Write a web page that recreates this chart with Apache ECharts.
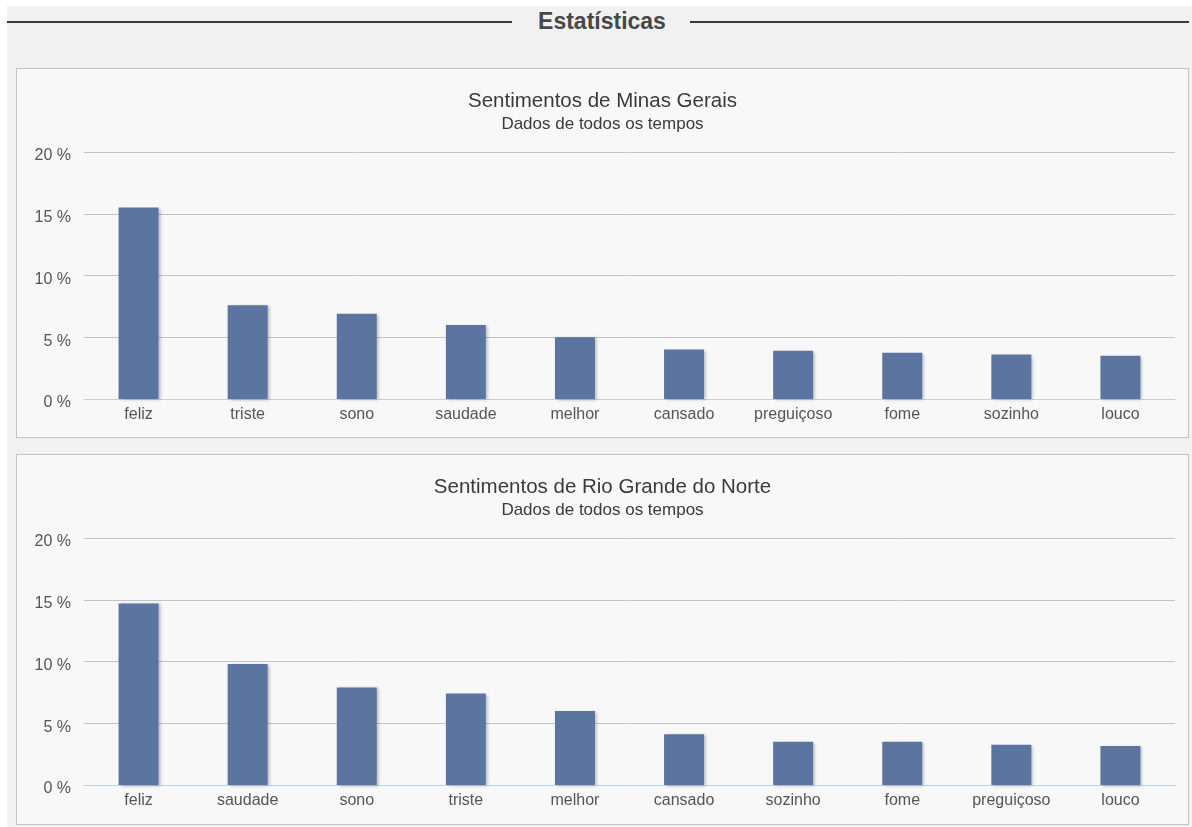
<!DOCTYPE html>
<html>
<head>
<meta charset="utf-8">
<script src="https://cdn.jsdelivr.net/npm/echarts@6/dist/echarts.min.js"></script>
<style>
    body { margin: 0; background: #fff; font-family: "Liberation Sans", Arial, sans-serif; }
    #page { position: absolute; left: 7px; top: 6px; right: 0; bottom: 0; background: #f1f1f1; }
    .header_line { position: absolute; top: 15px; height: 2px; background: #3a3a3a; }
    #header_text { position: absolute; left: 505px; width: 180px; top: 2px; text-align: center;
        font-size: 23px; font-weight: bold; color: #474747; }
    .panel { position: absolute; left: 9px; width: 1171px; background: #f8f8f8; border: 1px solid #c4c4c4; }
</style>
</head>
<body>
<div id="page">
    <div class="header_line" style="left:0; width:505px;"></div>
    <div id="header_text">Estatísticas</div>
    <div class="header_line" style="left:683px; width:499px;"></div>
    <div class="panel" id="panel_mg" style="top:62px; height:368px;"></div>
    <div class="panel" id="panel_rn" style="top:448px; height:369px;"></div>
</div>
<script>
var mgCategories = ['feliz', 'triste', 'sono', 'saudade', 'melhor', 'cansado', 'preguiçoso', 'fome', 'sozinho', 'louco'];
var mgValues = [15.5, 7.6, 6.9, 6.0, 5.0, 4.0, 3.9, 3.75, 3.6, 3.5];

var rnCategories = ['feliz', 'saudade', 'sono', 'triste', 'melhor', 'cansado', 'sozinho', 'fome', 'preguiçoso', 'louco'];
var rnValues = [14.7, 9.8, 7.9, 7.4, 6.0, 4.1, 3.5, 3.5, 3.25, 3.15];

var subtitle = 'Dados de todos os tempos';
var fontFamily = '"Liberation Sans", Arial, sans-serif';

function buildOptions(title, categories, values, bottom) {
    return {
        animation: false,
        title: {
            text: title,
            subtext: subtitle,
            left: 'center',
            top: 17,
            itemGap: 4,
            textStyle: { fontFamily: fontFamily, fontSize: 20.5, fontWeight: 'normal', color: '#3a3a3a' },
            subtextStyle: { fontFamily: fontFamily, fontSize: 17, color: '#3a3a3a' }
        },
        grid: { left: 67, right: 13, top: 83, bottom: bottom },
        xAxis: {
            type: 'category',
            data: categories,
            axisLine: { lineStyle: { color: '#c0d0e0', width: 1 } },
            axisTick: { length: 5, lineStyle: { color: '#c0d0e0' } },
            axisLabel: { margin: 8, fontFamily: fontFamily, fontSize: 16, color: '#555' }
        },
        yAxis: {
            type: 'value',
            min: 0,
            max: 20,
            interval: 5,
            axisLine: { show: false },
            axisTick: { show: false },
            axisLabel: {
                margin: 13,
                verticalAlign: 'top',
                lineHeight: 8,
                fontFamily: fontFamily,
                fontSize: 16,
                color: '#555',
                formatter: function (value) {
                    return value + ' %';
                }
            },
            splitLine: { lineStyle: { color: '#c4c4c4', width: 1 } }
        },
        series: [{
            type: 'bar',
            data: values,
            barWidth: 40,
            itemStyle: {
                color: '#5c75a0',
                shadowColor: 'rgba(0, 0, 0, 0.25)',
                shadowBlur: 3,
                shadowOffsetX: 2,
                shadowOffsetY: 1
            }
        }]
    };
}

var mgChart = echarts.init(document.getElementById('panel_mg'));
mgChart.setOption(buildOptions('Sentimentos de Minas Gerais', mgCategories, mgValues, 38));

var rnChart = echarts.init(document.getElementById('panel_rn'));
rnChart.setOption(buildOptions('Sentimentos de Rio Grande do Norte', rnCategories, rnValues, 39));

window.onresize = function () {
    mgChart.resize();
    rnChart.resize();
};
</script>
</body>
</html>
